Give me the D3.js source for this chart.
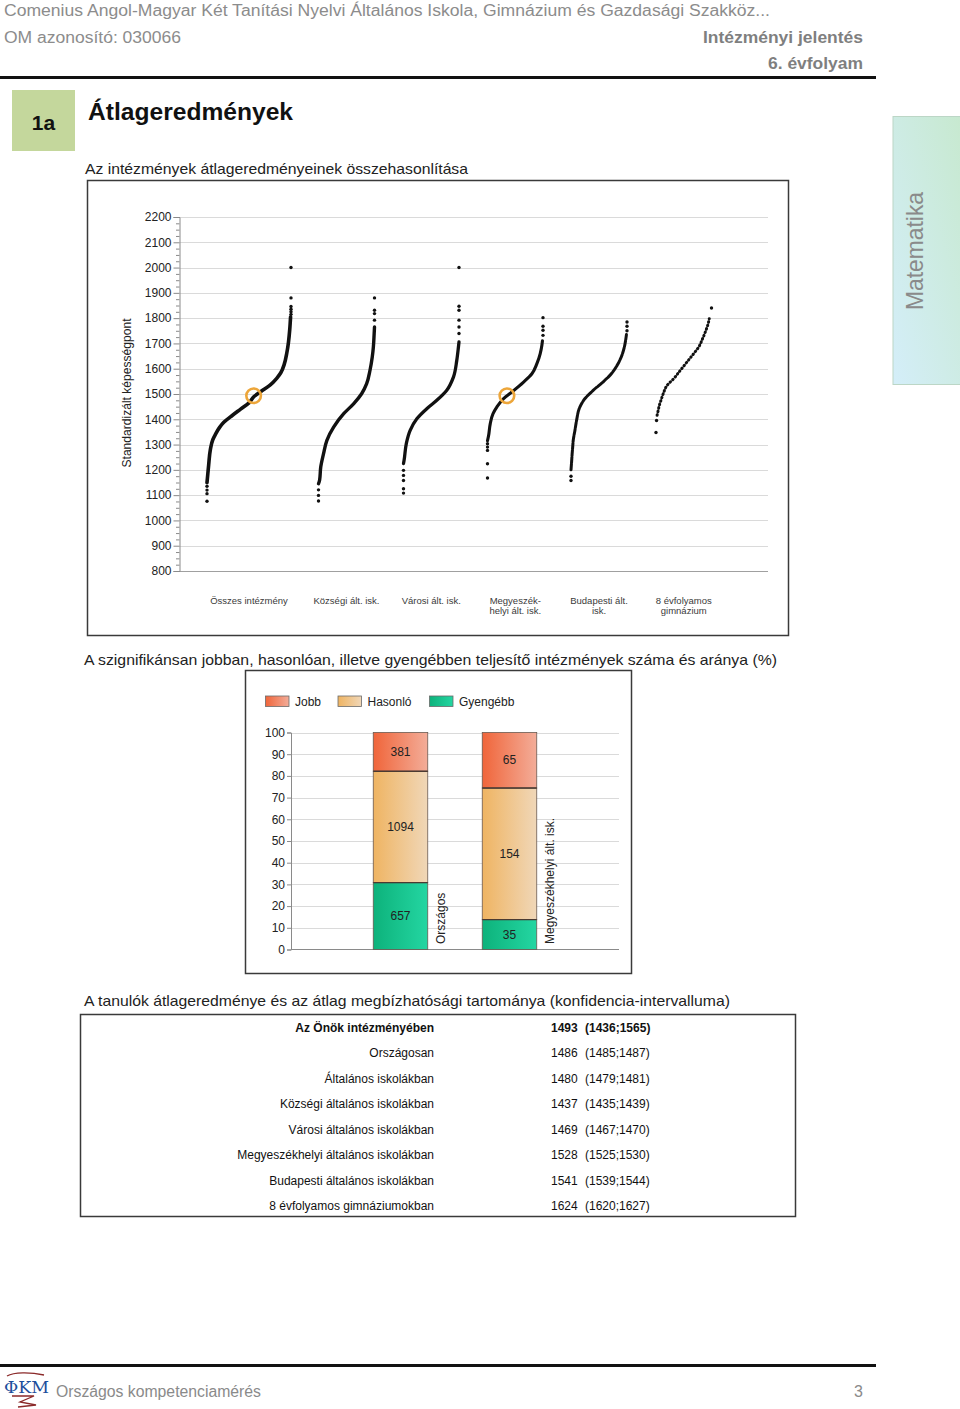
<!DOCTYPE html>
<html><head><meta charset="utf-8">
<script src="https://cdn.jsdelivr.net/npm/d3@7"></script>
<style>
body{margin:0;background:#fff}
svg{display:block}
text{font-family:"Liberation Sans",Arial,sans-serif}
</style>
</head><body>
<svg id="c" width="960" height="1409"></svg>
<script>
// ---------------- DATA ----------------
const headerSchool = "Comenius Angol-Magyar Két Tanítási Nyelvi Általános Iskola, Gimnázium és Gazdasági Szakköz...";
const headerOM = "OM azonosító: 030066";
const headerReport = "Intézményi jelentés";
const headerGrade = "6. évfolyam";

const groupLabels = [["Összes intézmény"],["Községi ált. isk."],["Városi ált. isk."],["Megyeszék-","helyi ált. isk."],["Budapesti ált.","isk."],["8 évfolyamos","gimnázium"]];
const yTicks = [800,900,1000,1100,1200,1300,1400,1500,1600,1700,1800,1900,2000,2100,2200];

// [rank %, score]
const curveAll  = [[0,1150],[1,1185],[2,1220],[4,1280],[7,1320],[10,1340],[15,1368],[20,1388],[30,1415],[40,1440],[50,1465],[56,1490],[65,1512],[75,1535],[83,1562],[88,1585],[92,1618],[95,1662],[97,1705],[98.5,1755],[99.5,1805]];
const tailsAll  = [[0,1076],[0,1106],[0,1120],[0,1135],[100,1815],[100,1825],[100,1835],[100,1846],[100,1880],[100,2000]];
const curveKozs = [[0,1145],[2,1160],[4,1211],[9,1264],[15,1317],[27,1369],[45,1422],[63,1462],[77,1501],[86,1541],[92,1594],[96,1646],[98,1686],[99.4,1739],[100,1765]];
const tailsKozs = [[0,1077],[0,1099],[0,1121],[100,1792],[100,1818],[100,1831],[100,1880]];
const curveVar  = [[0,1225],[1,1237],[5,1303],[12,1356],[24,1402],[42,1442],[60,1475],[78,1515],[90,1567],[96,1633],[99,1686],[100,1706]];
const tailsVar  = [[0,1108],[0,1125],[0,1158],[0,1178],[0,1198],[100,1739],[100,1765],[100,1792],[100,1831],[100,1847],[100,2000]];
const curveMegy = [[0,1315],[2,1336],[5,1383],[10,1422],[17,1449],[29,1482],[44,1508],[65,1547],[80,1580],[89,1620],[95,1660],[98,1693],[99,1710]];
const tailsMegy = [[0,1168],[0,1224],[0,1277],[0,1290],[0,1303],[100,1732],[100,1752],[100,1768],[100,1802]];
const curveBud  = [[0,1200],[1,1230],[2,1262],[3,1290],[4,1317],[7,1356],[10,1396],[16,1449],[25,1482],[40,1515],[57,1547],[72,1580],[84,1620],[92,1660],[96,1693],[98,1719],[99,1735]];
const tailsBud  = [[0,1158],[0,1175],[100,1750],[100,1768],[100,1785]];
const curveGim  = [[2,1416],[4,1435],[6,1455],[9,1475],[13,1501],[20,1534],[32,1561],[44,1594],[56,1627],[68,1660],[77,1686],[84,1719],[90,1752],[94,1778],[96,1798]];
const tailsGim  = [[0,1348],[1,1395],[100,1840]];

const schoolScore = 1493;
const schoolRank = [55.5, null, null, 35, null, null];

const barCategories = ["Országos","Megyeszékhelyi ált. isk."];
const barJobb = [381, 65];
const barHasonlo = [1094, 154];
const barGyengebb = [657, 35];
const legendLabels = ["Jobb","Hasonló","Gyengébb"];
const pctTicks = [0,10,20,30,40,50,60,70,80,90,100];

const tableLabels = ["Az Önök intézményében","Országosan","Általános iskolákban","Községi általános iskolákban","Városi általános iskolákban","Megyeszékhelyi általános iskolákban","Budapesti általános iskolákban","8 évfolyamos gimnáziumokban"];
const tableMean = [1493,1486,1480,1437,1469,1528,1541,1624];
const tableLow  = [1436,1485,1479,1435,1467,1525,1539,1620];
const tableHigh = [1565,1487,1481,1439,1470,1530,1544,1627];

// ---------------- DRAW ----------------
const svg = d3.select("#c");
const defs = svg.append("defs");
function grad(id, c1, c2, x1, y1, x2, y2){
  const g = defs.append("linearGradient").attr("id", id).attr("x1",x1).attr("y1",y1).attr("x2",x2).attr("y2",y2);
  g.append("stop").attr("offset","0").attr("stop-color",c1);
  g.append("stop").attr("offset","1").attr("stop-color",c2);
}
grad("gJobb","#f0653a","#f3ad99",0,0,1,0);
grad("gHas","#efb462","#f0d7b8",0,0,1,0);
grad("gGy","#0db27b","#24d6a2",0,0,1,0);
grad("gTab","#d4eef9","#c7e9cf",0,1,1,0);

function txt(x,y,s,size,opts){
  opts = opts||{};
  const t = svg.append("text").attr("x",x).attr("y",y).text(s)
    .style("font-size",size+"px").attr("fill",opts.fill||"#222")
    .attr("text-anchor",opts.anchor||"start");
  if(opts.bold) t.style("font-weight","bold");
  if(opts.len) t.attr("textLength",opts.len).attr("lengthAdjust","spacingAndGlyphs");
  return t;
}

// header
txt(4,16,headerSchool,16,{fill:"#8c8c8c",len:766});
txt(4,43,headerOM,16,{fill:"#8c8c8c",len:177});
txt(863,43,headerReport,16,{fill:"#7f7f7f",bold:true,anchor:"end",len:160});
txt(863,69,headerGrade,16,{fill:"#7f7f7f",bold:true,anchor:"end",len:95});
svg.append("rect").attr("x",0).attr("y",76).attr("width",876).attr("height",3).attr("fill","#111");

// section title
svg.append("rect").attr("x",12).attr("y",90).attr("width",63).attr("height",61).attr("fill","#c4d79c");
txt(43.5,130,"1a",21,{bold:true,anchor:"middle",fill:"#111"});
txt(88,120,"Átlageredmények",23,{bold:true,fill:"#111",len:205});

// Matematika tab
svg.append("rect").attr("x",893).attr("y",116.5).attr("width",70).attr("height",268).attr("fill","url(#gTab)").attr("stroke","#bcd6c6").attr("stroke-width",1);
svg.append("text").attr("transform","translate(923,251) rotate(-90)").attr("text-anchor","middle")
  .style("font-size","24px").attr("fill","#8a8a8a").attr("textLength",118).attr("lengthAdjust","spacingAndGlyphs").text("Matematika");

// ---- scatter chart ----
txt(85,174,"Az intézmények átlageredményeinek összehasonlítása",15,{len:383});
svg.append("rect").attr("x",87.5).attr("y",180.5).attr("width",701).attr("height",455).attr("fill","#fff").attr("stroke","#3a3a3a").attr("stroke-width",1.5);

const y = d3.scaleLinear().domain([800,2200]).range([571,217]);
const axX = 179.5, gridEnd = 768;
const gs = svg.append("g");
gs.selectAll("line.grid").data(yTicks.filter(d=>d>800)).join("line")
  .attr("x1",axX).attr("x2",gridEnd).attr("y1",d=>Math.round(y(d))+0.5).attr("y2",d=>Math.round(y(d))+0.5)
  .attr("stroke","#dadada").attr("stroke-width",1);
gs.append("line").attr("x1",axX).attr("x2",gridEnd).attr("y1",571.5).attr("y2",571.5).attr("stroke","#a0a0a0");
const yAxis = d3.axisLeft(y).tickValues(yTicks).tickSize(6).tickPadding(2).tickFormat(d3.format("d"));
const ga = gs.append("g").attr("transform",`translate(${axX},0)`).call(yAxis);
ga.select(".domain").attr("stroke","#8a8a8a");
ga.selectAll(".tick line").attr("stroke","#8a8a8a");
ga.selectAll(".tick text").style("font-size","12px").attr("fill","#222").style("font-family","'Liberation Sans',Arial,sans-serif");
const minorAxis = d3.axisLeft(y).tickValues(d3.range(800,2201,25).filter(v=>v%100!==0)).tickSize(3.5).tickFormat("");
const gm = gs.append("g").attr("transform",`translate(${axX},0)`).call(minorAxis);
gm.select(".domain").remove();
gm.selectAll(".tick line").attr("stroke","#8a8a8a");
svg.append("text").attr("transform","translate(131,393) rotate(-90)").attr("text-anchor","middle")
  .style("font-size","12.5px").attr("fill","#222").attr("textLength",149).attr("lengthAdjust","spacingAndGlyphs").text("Standardizált képességpont");

// group layout (pixel extents of each curve)
const groupX0 = [207,318.5,403.5,487.5,571,656];
const groupW  = [84,56,55.5,55.5,56,55.5];
const curves = [curveAll,curveKozs,curveVar,curveMegy,curveBud,curveGim];
const tails  = [tailsAll,tailsKozs,tailsVar,tailsMegy,tailsBud,tailsGim];
const strokeW = [3.6,3.4,3.3,3.1,3,3];
curves.forEach((cv,i)=>{
  const x = d3.scaleLinear().domain([0,100]).range([groupX0[i], groupX0[i]+groupW[i]]);
  const line = d3.line().x(d=>x(d[0])).y(d=>y(d[1])).curve(d3.curveMonotoneY);
  const sorted = cv.slice().sort((a,b)=>a[1]-b[1]);
  const p = gs.append("path").datum(sorted).attr("d",line).attr("fill","none").attr("stroke","#111")
    .attr("stroke-width",strokeW[i]).attr("stroke-linecap","round");
  if(i===5) p.attr("stroke-dasharray","0.6,3");
  if(i===4) p.attr("stroke-dasharray","6,1");
  gs.selectAll(null).data(tails[i]).join("circle")
    .attr("cx",d=>x(d[0])).attr("cy",d=>y(d[1])).attr("r",1.7).attr("fill","#111");
  if(schoolRank[i]!==null){
    gs.append("circle").attr("cx",x(schoolRank[i])).attr("cy",y(schoolScore)).attr("r",7.3)
      .attr("fill","none").attr("stroke","#eda63a").attr("stroke-width",2.6);
  }
  const cx = groupX0[i]+groupW[i]/2;
  groupLabels[i].forEach((s,k)=>{
    txt(cx,603.5+k*10.5,s,9.5,{anchor:"middle",fill:"#3a3a3a"});
  });
});

// ---- bar chart ----
txt(84,665,"A szignifikánsan jobban, hasonlóan, illetve gyengébben teljesítő intézmények száma és aránya (%)",15,{len:693});
svg.append("rect").attr("x",245.5).attr("y",670.5).attr("width",386).attr("height",303).attr("fill","#fff").attr("stroke","#3a3a3a").attr("stroke-width",1.5);

const yb = d3.scaleLinear().domain([0,100]).range([949.5,732.5]);
const bAxX = 291;
const gb = svg.append("g");
gb.selectAll("line.g").data(pctTicks.filter(d=>d>0)).join("line")
  .attr("x1",bAxX).attr("x2",619).attr("y1",d=>Math.round(yb(d))+0.5).attr("y2",d=>Math.round(yb(d))+0.5)
  .attr("stroke","#dadada");
gb.append("line").attr("x1",bAxX).attr("x2",619).attr("y1",949.5).attr("y2",949.5).attr("stroke","#8a8a8a");
const bAxis = d3.axisLeft(yb).tickValues(pctTicks).tickSize(4).tickPadding(2);
const gba = gb.append("g").attr("transform",`translate(${bAxX},0)`).call(bAxis);
gba.select(".domain").attr("stroke","#8a8a8a");
gba.selectAll(".tick line").attr("stroke","#8a8a8a");
gba.selectAll(".tick text").style("font-size","12px").attr("fill","#222").style("font-family","'Liberation Sans',Arial,sans-serif");

const xb = d3.scaleBand().domain(barCategories).range([346,564]);
const stackRows = barCategories.map((c,i)=>{
  const tot = barJobb[i]+barHasonlo[i]+barGyengebb[i];
  return {cat:c, Gyengébb:barGyengebb[i]/tot*100, Hasonló:barHasonlo[i]/tot*100, Jobb:barJobb[i]/tot*100,
          n:{Gyengébb:barGyengebb[i],Hasonló:barHasonlo[i],Jobb:barJobb[i]}};
});
const stack = d3.stack().keys(["Gyengébb","Hasonló","Jobb"])(stackRows);
const fills = {"Jobb":"url(#gJobb)","Hasonló":"url(#gHas)","Gyengébb":"url(#gGy)"};
const bw = xb.bandwidth()/2;
stack.forEach(layer=>{
  layer.forEach(seg=>{
    const cx = xb(seg.data.cat)+xb.bandwidth()/2;
    gb.append("rect").attr("x",cx-bw/2).attr("y",yb(seg[1])).attr("width",bw).attr("height",yb(seg[0])-yb(seg[1]))
      .attr("fill",fills[layer.key]).attr("stroke","#6a5a50").attr("stroke-width",0.8);
    gb.append("text").attr("x",cx).attr("y",(yb(seg[0])+yb(seg[1]))/2).attr("dy","0.35em").attr("text-anchor","middle")
      .style("font-size","12px").attr("fill","#222").text(seg.data.n[layer.key]);
  });
});
stack.slice(0,2).forEach(layer=>{
  layer.forEach(seg=>{
    const cx = xb(seg.data.cat)+xb.bandwidth()/2;
    gb.append("line").attr("x1",cx-bw/2).attr("x2",cx+bw/2).attr("y1",yb(seg[1])).attr("y2",yb(seg[1]))
      .attr("stroke","#4a3a32").attr("stroke-width",1.4);
  });
});
barCategories.forEach(c=>{
  const xr = xb(c)+xb.bandwidth()/2+bw/2;
  gb.append("text").attr("transform",`translate(${xr+17.5},944) rotate(-90)`).attr("text-anchor","start")
    .style("font-size","12px").attr("fill","#222").text(c);
});
const legX = [265.5,338,429.5];
legendLabels.forEach((l,i)=>{
  gb.append("rect").attr("x",legX[i]).attr("y",696).attr("width",23.5).attr("height",10.5)
    .attr("fill",fills[l]).attr("stroke","#6a6a6a").attr("stroke-width",0.8);
  gb.append("text").attr("x",legX[i]+29.5).attr("y",705.5).style("font-size","12px").attr("fill","#222").text(l);
});

// ---- table ----
txt(84,1006,"A tanulók átlageredménye és az átlag megbízhatósági tartománya (konfidencia-intervalluma)",15,{len:646});
svg.append("rect").attr("x",80.5).attr("y",1014.5).attr("width",715).attr("height",202).attr("fill","#fff").attr("stroke","#3a3a3a").attr("stroke-width",1.5);
const rowY = d3.scalePoint().domain(d3.range(tableLabels.length)).range([1032,1210]);
tableLabels.forEach((l,i)=>{
  const b = i===0;
  txt(434,rowY(i),l,12,{anchor:"end",bold:b,fill:"#111"});
  txt(551,rowY(i),String(tableMean[i]),12,{bold:b,fill:"#111"});
  txt(585,rowY(i),`(${tableLow[i]};${tableHigh[i]})`,12,{bold:b,fill:"#111"});
});

// ---- footer ----
svg.append("rect").attr("x",0).attr("y",1364).attr("width",876).attr("height",3).attr("fill","#111");
const logo = svg.append("g");
logo.append("path").attr("d","M7,1376 C14,1372 30,1372 44,1375").attr("fill","none").attr("stroke","#8b2a2a").attr("stroke-width",1.4);
logo.append("text").attr("x",4).attr("y",1393).style("font-family","'DejaVu Serif','Liberation Serif',serif").style("font-size","17px").attr("fill","#1d4f9c").attr("textLength",45).attr("lengthAdjust","spacingAndGlyphs").text("ΦKM");
logo.append("path").attr("d","M12,1396 L34,1396 L20,1402 L36,1405 L18,1407").attr("fill","none").attr("stroke","#8b2a2a").attr("stroke-width",1.3);
txt(56,1397,"Országos kompetenciamérés",16,{fill:"#8a8a8a",len:205});
txt(863,1397,"3",16,{fill:"#8a8a8a",anchor:"end"});
</script>
</body></html>
